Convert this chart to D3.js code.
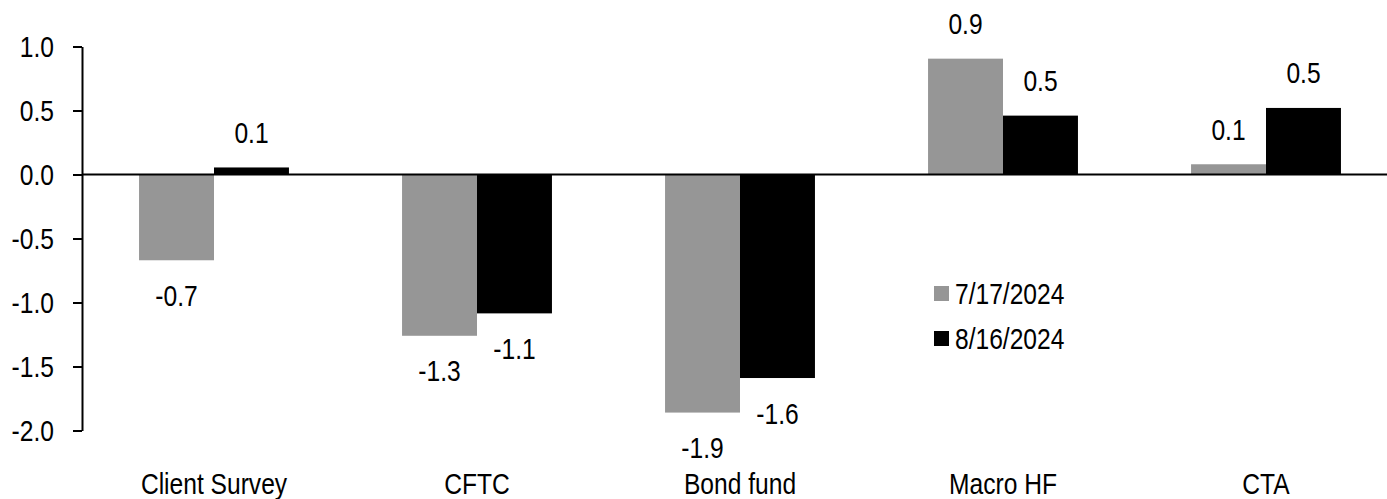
<!DOCTYPE html>
<html>
<head>
<meta charset="utf-8">
<script src="https://cdn.jsdelivr.net/npm/d3@7"></script>
<style>
  html, body { margin: 0; padding: 0; background: #fff; }
  svg { display: block; }
  text { font-family: "Liberation Sans", Arial, sans-serif; fill: #000; }
</style>
</head>
<body>
<svg id="chart" width="1387" height="499"></svg>
<script>
// Positioning indicators by source
const categories = ["Client Survey", "CFTC", "Bond fund", "Macro HF", "CTA"];
const seriesNames = ["7/17/2024", "8/16/2024"];
const july = [-0.67, -1.26, -1.86, 0.905, 0.08];
const august = [0.055, -1.085, -1.59, 0.46, 0.52];
const yTicks = [1.0, 0.5, 0.0, -0.5, -1.0, -1.5, -2.0];
const colors = ["#969696", "#000000"];

const svg = d3.select("#chart");
const fontSize = 30;
const narrow = 0.82;           // horizontal squeeze for a narrow typeface look
const fmt = v => d3.format(".1f")(v).replace("\u2212", "-");

// Place a condensed text at (x, y)
function condensed(sel, x, y) {
  sel.attr("x", 0).attr("y", 0)
    .attr("transform", function (d, i) {
      const px = typeof x === "function" ? x.call(this, d, i) : x;
      const py = typeof y === "function" ? y.call(this, d, i) : y;
      return `translate(${px},${py}) scale(${narrow},1)`;
    })
    .attr("font-size", fontSize);
  return sel;
}

const x0 = d3.scaleBand()
  .domain(categories)
  .range([82.5, 1397.5])
  .paddingInner(0.43)
  .paddingOuter(0.215);

const x1 = d3.scaleBand()
  .domain(seriesNames)
  .range([0, x0.bandwidth()]);

const y = d3.scaleLinear()
  .domain([-2, 1])
  .range([430.5, 46.5]);

const rows = categories.map((c, i) => ({
  category: c,
  values: [
    { series: seriesNames[0], value: july[i], color: colors[0] },
    { series: seriesNames[1], value: august[i], color: colors[1] }
  ]
}));

// Bars
const groups = svg.append("g").selectAll("g")
  .data(rows)
  .join("g")
  .attr("transform", d => `translate(${x0(d.category)},0)`);

groups.selectAll("rect")
  .data(d => d.values)
  .join("rect")
  .attr("x", d => x1(d.series))
  .attr("width", x1.bandwidth())
  .attr("y", d => y(Math.max(0, d.value)))
  .attr("height", d => Math.abs(y(d.value) - y(0)))
  .attr("fill", d => d.color);

// Value labels outside the bar end
groups.selectAll("text")
  .data(d => d.values)
  .join("text")
  .attr("dy", "0.35em")
  .attr("text-anchor", "middle")
  .text(d => fmt(d.value))
  .call(condensed,
    d => x1(d.series) + x1.bandwidth() / 2,
    d => d.value >= 0 ? y(d.value) - 35 : y(d.value) + 35);

// Zero line across the plot
const xAxis = d3.axisBottom(x0).tickSize(0).tickFormat("");
svg.append("g")
  .attr("transform", `translate(0,${y(0)})`)
  .call(xAxis)
  .call(g => g.select(".domain").remove())
  .append("line")
  .attr("x1", 82).attr("x2", 1387)
  .attr("stroke", "#000").attr("stroke-width", 2);

// Category labels along the bottom
svg.append("g").selectAll("text")
  .data(categories)
  .join("text")
  .attr("text-anchor", "middle")
  .text(d => d)
  .call(condensed, d => x0(d) + x0.bandwidth() / 2, 494);

// Value axis
const yAxis = d3.axisLeft(y)
  .tickValues(yTicks)
  .tickSize(9)
  .tickSizeOuter(0)
  .tickPadding(0)
  .tickFormat(fmt);

svg.append("g")
  .attr("transform", "translate(82,0)")
  .call(yAxis)
  .attr("font-family", null)
  .attr("font-size", null)
  .call(g => g.select(".domain").attr("stroke", "#000").attr("stroke-width", 2))
  .call(g => g.selectAll(".tick line").attr("stroke", "#000").attr("stroke-width", 2))
  .call(g => g.selectAll(".tick text")
    .attr("fill", "#000")
    .call(condensed, -28, 0));

// Legend
const legend = svg.append("g").attr("transform", "translate(934,286)");
const items = legend.selectAll("g")
  .data(seriesNames)
  .join("g")
  .attr("transform", (d, i) => `translate(0,${i * 45})`);
items.append("rect")
  .attr("width", 15).attr("height", 15)
  .attr("fill", (d, i) => colors[i]);
items.append("text")
  .attr("dy", "0.35em")
  .text(d => d)
  .call(condensed, 21, 7);
</script>
</body>
</html>
